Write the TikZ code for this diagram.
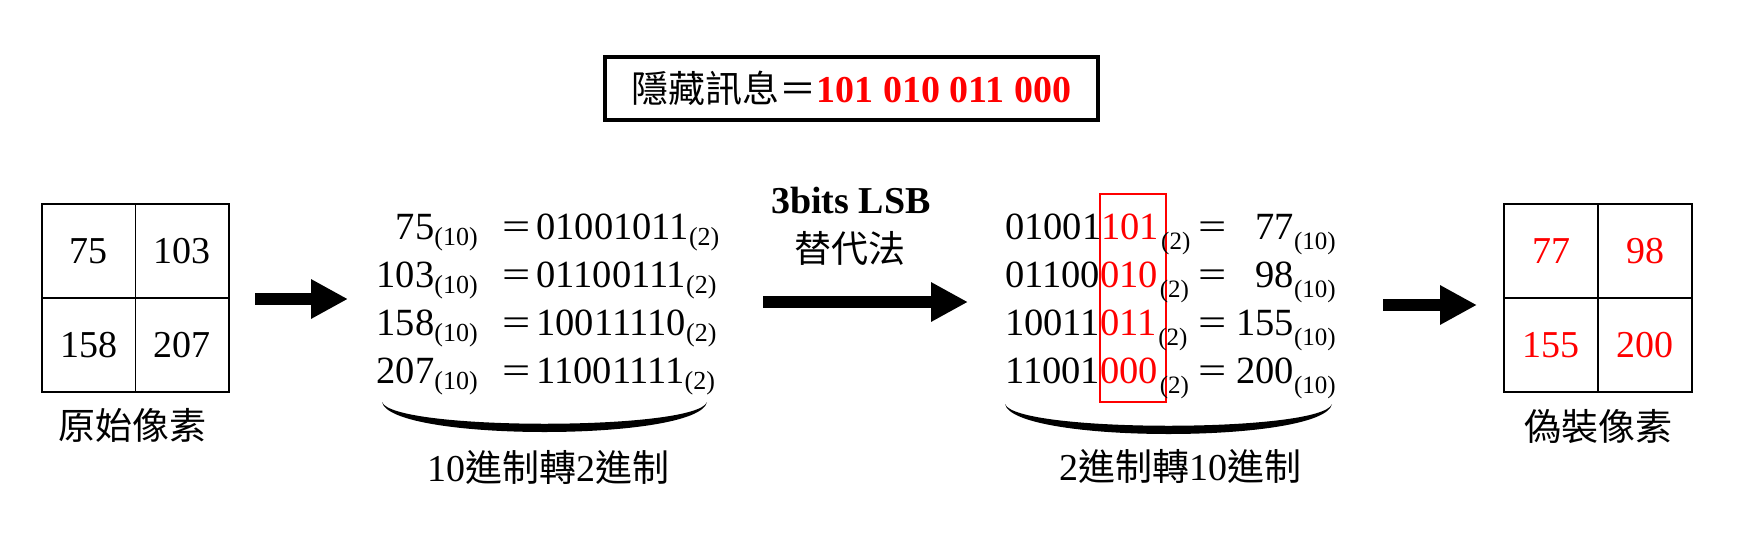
\documentclass[tikz,border=0pt]{standalone}
\usepackage{fontspec}
\setmainfont{Liberation Serif}
\newfontfamily\cjk{Noto Sans CJK TC}
\usetikzlibrary{arrows.meta}
\newcommand{\sbm}[1]{\raisebox{-6pt}{\fontsize{26}{26}\selectfont #1}}
\newcommand{\sbr}[1]{\raisebox{-10pt}{\fontsize{25}{25}\selectfont #1}}
\newcommand{\eqsign}{\scalebox{1.3}[1]{=}}
\begin{document}
\begin{tikzpicture}[x=1pt,y=-1pt,
  eq/.style={inner sep=0pt, font=\fontsize{38.5}{40}\selectfont},
  cjklab/.style={inner sep=0pt, font=\fontsize{37}{40}\selectfont\cjk},
  cell/.style={draw, line width=1.6pt, minimum width=93.5pt, minimum height=94pt, inner sep=0pt, font=\fontsize{38}{40}\selectfont},
  bigarrow/.style={line width=12.5pt, -{Triangle[length=37pt,width=37pt]}},
  bracefill/.style={fill=black}
]
\useasboundingbox (0,0) rectangle (1749,541);

% message box
\node[draw, line width=4pt, minimum width=493pt, minimum height=63pt, inner sep=0pt] (msg) at (851.5,88.5)
  {{\fontsize{37}{40}\selectfont\cjk 隱藏訊息＝}{\fontsize{38}{40}\selectfont\bfseries\color{red}101 010 011 000}};

% original pixels
\node[cell] (a1) at (88.75,251) {75};
\node[cell] (a2) at (182.25,251) {103};
\node[cell] (a3) at (88.75,345) {158};
\node[cell] (a4) at (182.25,345) {207};
\node[cjklab] (alab) at (132,425) {原始像素};

% stego pixels
\node[cell, text=red] (b1) at (1551,251) {77};
\node[cell, text=red] (b2) at (1645,251) {98};
\node[cell, text=red] (b3) at (1551,345) {155};
\node[cell, text=red] (b4) at (1645,345) {200};
\node[cjklab] (blab) at (1598,427) {偽裝像素};

% arrows
\coordinate (p1s) at (255,299); \coordinate (p1e) at (348,299);
\coordinate (p2s) at (763,302); \coordinate (p2e) at (968,302);
\coordinate (p3s) at (1383,305); \coordinate (p3e) at (1477,305);
\draw[bigarrow] (p1s) -- (p1e);
\draw[bigarrow] (p2s) -- (p2e);
\draw[bigarrow] (p3s) -- (p3e);

% method label
\node[inner sep=0pt, font=\fontsize{38}{40}\selectfont\bfseries] (lsb) at (851,200) {3bits LSB};
\node[cjklab] (lsbc) at (850,248) {替代法};

% decimal to binary
\node[eq, anchor=base east] (d1) at (478,239) {75\sbm{(10)}};
\node[eq, anchor=base east] (d2) at (478,287) {103\sbm{(10)}};
\node[eq, anchor=base east] (d3) at (478,335) {158\sbm{(10)}};
\node[eq, anchor=base east] (d4) at (478,383) {207\sbm{(10)}};
\node[eq, anchor=base west] (e1) at (502,239) {\eqsign\hspace{6pt}01001011\sbm{(2)}};
\node[eq, anchor=base west] (e2) at (502,287) {\eqsign\hspace{6pt}01100111\sbm{(2)}};
\node[eq, anchor=base west] (e3) at (502,335) {\eqsign\hspace{6pt}10011110\sbm{(2)}};
\node[eq, anchor=base west] (e4) at (502,383) {\eqsign\hspace{6pt}11001111\sbm{(2)}};

\fill[bracefill] (382,402) .. controls (390,442) and (699,442) .. (707,402)
  .. controls (697,431) and (392,431) .. (382,402) -- cycle;
\node[inner sep=0pt] (lab1) at (548,467)
  {{\fontsize{38}{40}\selectfont 10}{\fontsize{37}{40}\selectfont\cjk 進制轉}{\fontsize{38}{40}\selectfont 2}{\fontsize{37}{40}\selectfont\cjk 進制}};

% binary to decimal
\node[draw=red, line width=1.6pt, minimum width=66pt, minimum height=208pt, inner sep=0pt] (sel) at (1133,298) {};
\node[eq, anchor=base west] (f1) at (1005,239) {01001{\color{red}101}\hspace{2pt}\sbr{(2)}};
\node[eq, anchor=base west] (f2) at (1005,287) {01100{\color{red}010}\hspace{2pt}\sbr{(2)}};
\node[eq, anchor=base west] (f3) at (1005,335) {10011{\color{red}011}\hspace{2pt}\sbr{(2)}};
\node[eq, anchor=base west] (f4) at (1005,383) {11001{\color{red}000}\hspace{2pt}\sbr{(2)}};
\node[eq, anchor=base west] (q1) at (1198,239) {\eqsign};
\node[eq, anchor=base west] (q2) at (1198,287) {\eqsign};
\node[eq, anchor=base west] (q3) at (1198,335) {\eqsign};
\node[eq, anchor=base west] (q4) at (1198,383) {\eqsign};
\node[eq, anchor=base east] (g1) at (1336,239) {77\sbr{(10)}};
\node[eq, anchor=base east] (g2) at (1336,287) {98\sbr{(10)}};
\node[eq, anchor=base east] (g3) at (1336,335) {155\sbr{(10)}};
\node[eq, anchor=base east] (g4) at (1336,383) {200\sbr{(10)}};

\fill[bracefill] (1005,404) .. controls (1013,444) and (1324,444) .. (1332,404)
  .. controls (1322,433) and (1015,433) .. (1005,404) -- cycle;
\node[inner sep=0pt] (lab2) at (1180,466)
  {{\fontsize{38}{40}\selectfont 2}{\fontsize{37}{40}\selectfont\cjk 進制轉}{\fontsize{38}{40}\selectfont 10}{\fontsize{37}{40}\selectfont\cjk 進制}};
\end{tikzpicture}
\end{document}
